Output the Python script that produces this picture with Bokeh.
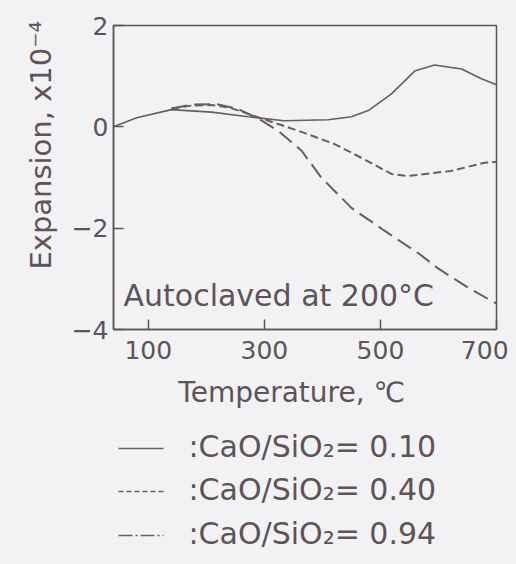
from bokeh.plotting import figure
from bokeh.layouts import column
from bokeh.models import Range1d, FixedTicker, Label
from bokeh.core.properties import value
from bokeh.embed import file_html
from bokeh.resources import INLINE

# ---- data ----
temp_010 = [40, 80, 140, 209, 272, 334, 410, 450, 479, 519, 559, 593, 640, 674, 700]
exp_010 = [0.0, 0.18, 0.34, 0.29, 0.20, 0.12, 0.14, 0.20, 0.32, 0.65, 1.10, 1.22, 1.14, 0.95, 0.83]

temp_040 = [140, 175, 209, 240, 266, 307, 364, 421, 467, 519, 548, 622, 679, 700]
exp_040 = [0.36, 0.42, 0.43, 0.38, 0.28, 0.12, -0.10, -0.34, -0.61, -0.93, -0.97, -0.87, -0.71, -0.69]

temp_094 = [140, 175, 217, 255, 290, 324, 364, 398, 450, 507, 566, 600, 652, 700]
exp_094 = [0.36, 0.44, 0.45, 0.35, 0.16, -0.08, -0.47, -1.00, -1.60, -2.05, -2.50, -2.80, -3.18, -3.49]

x_ticks = [100, 300, 500, 700]
x_tick_labels = {100: "100", 300: "300", 500: "500", 700: "700\u00a0"}
y_ticks = [-4, -2, 0, 2]
y_tick_labels = {-4: "\u22124", -2: "\u22122", 0: "0", 2: "2"}
legend_labels = [":CaO/SiO\u2082= 0.10", ":CaO/SiO\u2082= 0.40", ":CaO/SiO\u2082= 0.94"]
legend_dashes = ["solid", "5 3", "14 3 2 3"]

INK = "#5d5358"
LINE = "#675d62"
BG = "#f2f2f4"
FONT = "DejaVu Sans"

p = figure(width=516, height=420, output_backend="svg", toolbar_location=None,
           x_range=Range1d(40, 700), y_range=Range1d(-4, 2),
           min_border_left=113, min_border_right=20, min_border_top=25, min_border_bottom=91)
p.background_fill_color = BG
p.border_fill_color = BG
p.outline_line_color = INK
p.outline_line_width = 1.5
p.grid.visible = False

for ax in (p.xaxis[0], p.yaxis[0]):
    ax.axis_line_color = INK
    ax.axis_line_width = 1.5
    ax.major_tick_line_color = INK
    ax.major_tick_line_width = 1.5
    ax.major_tick_in = 10
    ax.major_tick_out = 0
    ax.minor_tick_line_color = None
    ax.major_label_text_color = INK
    ax.major_label_text_font = FONT
    ax.major_label_text_font_size = "25px"
    ax.axis_label_text_font = FONT
    ax.axis_label_text_font_style = "normal"
    ax.axis_label_text_color = INK

p.xaxis.ticker = FixedTicker(ticks=x_ticks)
p.xaxis.major_label_overrides = x_tick_labels
p.yaxis.ticker = FixedTicker(ticks=y_ticks)
p.yaxis.major_label_overrides = y_tick_labels
p.xaxis.major_label_standoff = 6
p.yaxis.major_label_standoff = 5

p.xaxis.axis_label = "Temperature, \u2103\u00a0\u00a0\u00a0"
p.xaxis.axis_label_text_font_size = "28px"
p.xaxis.axis_label_standoff = 8

p.yaxis.axis_label = "\u00a0" * 7 + "Expansion, x10\u207b\u2074"
p.yaxis.axis_label_text_font_size = "29px"
p.yaxis.axis_label_standoff = 11

# curves
p.line(temp_010, exp_010, line_color=LINE, line_width=1.6)
p.line(temp_040, exp_040, line_color=LINE, line_width=2, line_dash="8 4")
p.line(temp_094, exp_094, line_color=LINE, line_width=2, line_dash="16 7")

# annotation inside the plot
p.add_layout(Label(x=10, y=34, x_units="screen", y_units="screen",
                   text="Autoclaved at 200\u00b0C", text_align="left",
                   text_baseline="alphabetic", text_font=FONT,
                   text_font_size="30px", text_color=INK))

# ---- legend panel below the chart (x in canvas pixels, y downwards) ----
q = figure(width=516, height=144, output_backend="svg", toolbar_location=None,
           x_range=Range1d(113, 496), y_range=Range1d(144, 0),
           x_axis_type=None, y_axis_type=None,
           min_border_left=113, min_border_right=20, min_border_top=0, min_border_bottom=0)
q.background_fill_color = BG
q.border_fill_color = BG
q.outline_line_color = None
q.grid.visible = False

sample_x0, sample_x1, text_x = 118, 163, 188
row_y = [26, 69, 113]
for i in range(3):
    q.line([sample_x0, sample_x1], [row_y[i] + 2, row_y[i] + 2], line_color=LINE,
           line_width=1.6, line_dash=legend_dashes[i])
q.text(x=[text_x] * 3, y=row_y, text=legend_labels, text_font=value(FONT),
       text_font_size="30px", text_color=INK, text_baseline="middle", text_align="left")

layout = column(p, q, spacing=0, styles={"background-color": BG})
open("out.html", "w").write(file_html(layout, INLINE))
